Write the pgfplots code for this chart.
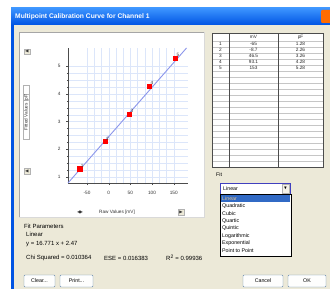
\documentclass[border=0pt]{standalone}
\usepackage{amssymb}
\usepackage{pgfplots}
\pgfplotsset{compat=1.18}
\usepackage{fontspec}
\setmainfont{Liberation Sans}
\definecolor{xpblue}{RGB}{0,84,227}
\definecolor{xpblue2}{RGB}{61,149,255}
\definecolor{xpbeige}{RGB}{236,233,216}
\definecolor{gridblue}{RGB}{220,230,250}
\definecolor{fitline}{RGB}{140,150,235}
\definecolor{selblue}{RGB}{49,106,197}
\definecolor{btnedge}{RGB}{0,60,116}
\newcommand{\tf}{\fontsize{4.3}{5}\selectfont}
\newcommand{\tkf}{\fontsize{4.7}{5.5}\selectfont}
\newcommand{\df}{\fontsize{5.3}{6}\selectfont}
\newcommand{\pf}{\fontsize{6}{7}\selectfont}
\newcommand{\btn}[3]{%
  \draw[btnedge!60, fill=white!95!xpbeige, rounded corners=1pt] (#1,3) rectangle (#2,15);
  \node[font=\df, inner sep=0] at ({(#1+#2)/2},9) {#3};}
\pgfplotstableread{
x y lab
-67 1.30 1
-8.5 2.28 2
47.7 3.28 3
93.8 4.29 4
153.8 5.30 5
}\calpts
\begin{document}
\begin{tikzpicture}
\begin{scope}[x=1pt,y=1pt]
\path[use as bounding box] (0,0) rectangle (330,290);
\fill[white] (0,0) rectangle (330,290);
% window frame
\fill[xpblue] (11,1) rectangle (330,282);
\shade[top color=xpblue2, bottom color=xpblue] (11,265) rectangle (330,282);
\fill[xpbeige] (14,1) rectangle (330,265);
\node[anchor=west, text=white, font=\fontsize{6.7}{8}\selectfont\bfseries, inner sep=0] at (15,273.5) {Multipoint Calibration Curve for Channel 1};
\fill[rounded corners=1pt, orange!85!red] (321,267) rectangle (331,280);
% chart panel
\fill[white] (19,73) rectangle (204,258);
\draw[gray!70] (19,73) -- (19,258) -- (204,258);
\draw[white!85!black] (19,73) -- (204,73) -- (204,258);
% y label box and small buttons
\draw[gray!60] (23,151) rectangle (29.5,205);
\node[rotate=90, font=\tkf, text=gray!40!black] at (26.3,178) {Fitted Values [pF]};
\draw[gray!60, fill=xpbeige] (24,236) rectangle (30,241);
\node[font=\tf, text=gray!40!black, inner sep=0] at (27,238.5) {$\blacktriangleleft$};
\draw[gray!60, fill=xpbeige] (24,116) rectangle (30,122);
\node[font=\tf, text=gray!40!black, inner sep=0] at (27,119) {$\blacktriangleleft$};
% x label and buttons
\node[font=\tkf, text=gray!40!black] at (117,78) {Raw Values [mV]};
\node[font=\tf, text=gray!40!black, inner sep=0] at (80,78) {$\blacktriangleleft\!\!\blacktriangleright$};
\draw[gray!60, fill=xpbeige] (178,75) rectangle (184,81);
\node[font=\tf, text=gray!40!black, inner sep=0] at (181,78) {$\blacktriangleright$};
% data table
\fill[white] (212,123) rectangle (323,257);
\foreach \yy in {249,243,237,231,225,219,213,207,201,195,189,183,177,171,165,159,153,147,141,135,129}
  \draw[gray!45, line width=0.3pt] (212,\yy) -- (323,\yy);
\draw[gray!60!black, line width=0.5pt] (229,123) -- (229,257);
\draw[gray!60!black, line width=0.5pt] (278,123) -- (278,257);
\draw[gray!60!black, line width=0.6pt] (212,123) rectangle (323,257);
\node[font=\tkf, text=gray!30!black, inner sep=0] at (253.5,253) {mV};
\node[font=\tkf, text=gray!30!black, inner sep=0] at (300.5,253) {pF};
\foreach \i/\a/\b [count=\k] in {1/-65/1.28, 2/-8.7/2.26, 3/46.5/3.26, 4/93.1/4.28, 5/153/5.28}{
  \node[font=\tkf, text=gray!30!black, inner sep=0] at (220.5,249-\k*6+3) {\i};
  \node[font=\tkf, text=gray!30!black, inner sep=0] at (253.5,249-\k*6+3) {\a};
  \node[font=\tkf, text=gray!30!black, inner sep=0] at (300.5,249-\k*6+3) {\b};
}
% fit selector
\node[anchor=west, font=\df, text=black, inner sep=0] at (216,115) {Fit};
\draw[gray!50!blue, fill=white] (220,96) rectangle (290,107);
\node[anchor=west, font=\df, inner sep=0] at (223,101.5) {Linear};
\draw[gray!60, fill=xpbeige!60!white] (282,97) rectangle (289,106);
\node[font=\tf, inner sep=0] at (285.5,101.5) {$\blacktriangledown$};
\draw[black, fill=white] (220,34) rectangle (291,95.5);
\fill[selblue] (221,88) rectangle (290,95);
\foreach \t [count=\k] in {Linear,Quadratic,Cubic,Quartic,Quintic,Logarithmic,Exponential,Point to Point}{
  \node[anchor=west, font=\df, inner sep=0, text=black] at (222,95-\k*7.4+3.7) {\t};
}
\node[anchor=west, font=\df, inner sep=0, text=white] at (222,91.3) {Linear};
% fit parameters
\node[anchor=west, font=\pf, inner sep=0] at (24,64) {Fit Parameters};
\node[anchor=west, font=\pf, inner sep=0] at (26,56) {Linear};
\node[anchor=west, font=\pf, inner sep=0] at (26,46) {y = 16.771 x + 2.47};
\node[anchor=west, font=\pf, inner sep=0] at (26,32) {Chi Squared = 0.010364};
\node[anchor=west, font=\pf, inner sep=0] at (104,32) {ESE = 0.016383};
\node[anchor=west, font=\pf, inner sep=0] at (166,32) {R\textsuperscript{2} = 0.99936};
% buttons
\btn{24}{55}{Clear...}
\btn{60}{93}{Print...}
\btn{243}{283}{Cancel}
\btn{288}{326}{OK}
\end{scope}
\begin{axis}[at={(68pt,107pt)}, anchor=south west, scale only axis,
  width=120pt, height=135pt,
  xmin=-93.8, xmax=183, ymin=0.78, ymax=5.66,
  xtick={-50,0,50,100,150}, ytick={1,2,3,4,5},
  minor x tick num=2, minor y tick num=3,
  axis x line*=bottom, axis y line*=left,
  axis line style={gray!60!black, -},
  tick style={gray!60!black},
  tick align=outside, major tick length=2pt, minor tick length=1.2pt,
  grid=both, grid style={gridblue, line width=0.3pt},
  minor grid style={gridblue, line width=0.3pt},
  tick label style={font=\tkf, text=gray!40!black},
  xticklabel style={yshift=-3pt},
  yticklabel style={xshift=-2pt},
  /pgf/number format/assume math mode=true,
  clip=false]
\addplot[fitline, line width=0.9pt] coordinates {(-93.8,0.78) (179.6,5.66)};
\addplot[only marks, mark=square*, mark size=2.1pt, red,
  nodes near coords, point meta=explicit symbolic,
  every node near coord/.style={font=\tkf, text=black!75, anchor=south west, inner sep=1pt}]
  table[x=x, y=y, meta=lab] {\calpts};
\end{axis}
\end{tikzpicture}
\end{document}
